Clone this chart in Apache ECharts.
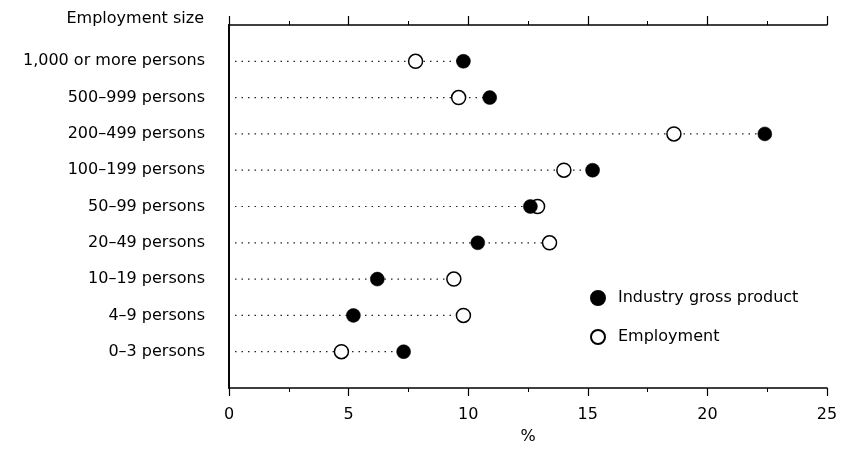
<!DOCTYPE html>
<html>
<head>
<meta charset="utf-8">
<script src="https://cdn.jsdelivr.net/npm/echarts@6/dist/echarts.min.js"></script>
<style>html,body{margin:0;padding:0;background:#fff;}#c{width:846px;height:450px;}</style>
</head>
<body>
<div id="c"></div>
<script>
// Categories listed top to bottom
var categories = ['1,000 or more persons','500–999 persons','200–499 persons','100–199 persons','50–99 persons','20–49 persons','10–19 persons','4–9 persons','0–3 persons'];
var industryGrossProduct = [9.8, 10.9, 22.4, 15.2, 12.6, 10.4, 6.2, 5.2, 7.3];
var employment = [7.8, 9.6, 18.6, 14.0, 12.9, 13.4, 9.4, 9.8, 4.7];
var xTicks = [0, 5, 10, 15, 20, 25];

var FONT = 'DejaVu Sans';
var axisCats = [''].concat(categories.slice().reverse()).concat(['']);

var igpData = categories.map(function (c, i) { return [industryGrossProduct[i], c]; });
var empData = categories.map(function (c, i) { return [employment[i], c]; });
var lineData = categories.map(function (c, i) { return [Math.max(industryGrossProduct[i], employment[i]), c]; });

var chart = echarts.init(document.getElementById('c'), null, {renderer: 'canvas'});
var baseX = {
  type: 'value', min: xTicks[0], max: xTicks[xTicks.length - 1], interval: xTicks[1] - xTicks[0],
  splitLine: {show: false},
  axisLine: {show: true, lineStyle: {color: '#000', width: 1.5}},
  minorTick: {show: true, splitNumber: 2, length: 4, lineStyle: {color: '#000', width: 1}},
  minorSplitLine: {show: false}
};
chart.setOption({
  animation: false,
  backgroundColor: '#fff',
  title: {
    text: 'Employment size', right: 642, top: 11, padding: 0,
    textStyle: {fontFamily: FONT, fontSize: 16, fontWeight: 'normal', color: '#000'}
  },
  grid: {left: 229, right: 19, top: 25, bottom: 61, containLabel: false},
  legend: {
    orient: 'vertical', left: 585, top: 285, itemWidth: 14, itemHeight: 14, itemGap: 23,
    data: ['Industry gross product', 'Employment'],
    textStyle: {fontFamily: FONT, fontSize: 16, color: '#000', lineHeight: 16, padding: [0, 0, 0, 8]}
  },
  xAxis: [
    Object.assign({}, baseX, {
      position: 'bottom',
      axisTick: {show: true, inside: false, length: 8, lineStyle: {color: '#000', width: 1.2}},
      axisLabel: {fontFamily: FONT, fontSize: 16, color: '#000', margin: 19},
      name: '%', nameLocation: 'middle', nameGap: 41,
      nameTextStyle: {fontFamily: FONT, fontSize: 16, color: '#000'}
    }),
    Object.assign({}, baseX, {
      position: 'top',
      axisTick: {show: true, inside: false, length: 9, lineStyle: {color: '#000', width: 1.2}},
      axisLabel: {show: false}
    })
  ],
  yAxis: [
    {
      type: 'category', data: axisCats, boundaryGap: false, position: 'left',
      axisLine: {show: true, lineStyle: {color: '#000', width: 1.5}},
      axisTick: {show: false},
      splitLine: {show: false},
      axisLabel: {interval: 0, fontFamily: FONT, fontSize: 16, color: '#000', margin: 24}
    },
    {
      type: 'value', position: 'right', min: 0, max: 1,
      axisLine: {show: true, lineStyle: {color: '#000', width: 1.8}},
      axisTick: {show: false}, axisLabel: {show: false}, splitLine: {show: false}
    }
  ],
  series: [
    {
      type: 'custom', name: 'guides', xAxisIndex: 0, yAxisIndex: 0, silent: true, z: 1,
      data: lineData,
      encode: {x: 0, y: 1},
      renderItem: function (params, api) {
        var y = api.value(1);
        var p0 = api.coord([0, y]);
        var p1 = api.coord([api.value(0), y]);
        return {
          type: 'line',
          shape: {x1: p0[0] + 6, y1: p0[1], x2: p1[0], y2: p1[1]},
          style: {stroke: '#222', lineWidth: 1.2, lineDash: [1.5, 5]}
        };
      }
    },
    {
      type: 'scatter', name: 'Employment', xAxisIndex: 0, yAxisIndex: 0, z: 3,
      symbol: 'circle', symbolSize: 14,
      itemStyle: {color: '#fff', borderColor: '#000', borderWidth: 1.5, opacity: 1},
      data: empData
    },
    {
      type: 'scatter', name: 'Industry gross product', xAxisIndex: 0, yAxisIndex: 0, z: 4,
      symbol: 'circle', symbolSize: 14,
      itemStyle: {color: '#000', borderColor: '#000', borderWidth: 0.5, opacity: 1},
      data: igpData
    }
  ]
});
</script>
</body>
</html>
